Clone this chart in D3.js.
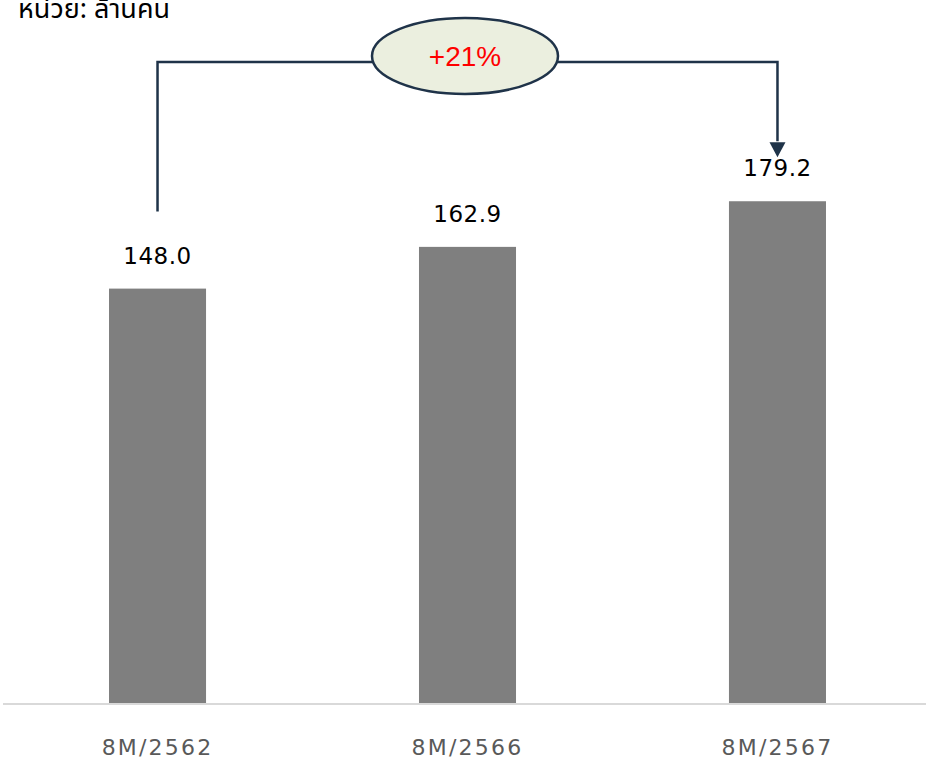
<!DOCTYPE html>
<html>
<head>
<meta charset="utf-8">
<script src="https://cdn.jsdelivr.net/npm/d3@7"></script>
<style>
  body { margin: 0; background: #fff; }
  svg { display: block; }
</style>
</head>
<body>
<div id="chart"></div>
<script>
const width = 926;
const height = 759;

// data
const categories = ["8M/2562", "8M/2566", "8M/2567"];
const values = [148.0, 162.9, 179.2];
const growthLabel = "+21%";
const unitLabel = "หน่วย: ล้านคน";

const baseY = 703;

const svg = d3.select("#chart")
    .append("svg")
    .attr("width", width)
    .attr("height", height);

const x = d3.scaleBand()
    .domain(categories)
    .range([3, 932])
    .paddingInner(0.687)
    .paddingOuter(0.342);

const y = d3.scaleLinear()
    .domain([0, 250])
    .range([baseY, baseY - 2.8 * 250]);

// unit label (top left, partly cut off)
svg.append("text")
    .attr("x", 18)
    .attr("y", 18)
    .attr("font-family", "'Noto Sans Thai', 'Noto Sans', Tahoma, sans-serif")
    .attr("font-size", 27)
    .attr("fill", "#000")
    .text(unitLabel);

// bars
svg.append("g")
    .selectAll("rect")
    .data(values)
    .join("rect")
    .attr("x", (d, i) => x(categories[i]))
    .attr("y", d => y(d))
    .attr("width", x.bandwidth())
    .attr("height", d => baseY - y(d))
    .attr("fill", "#7f7f7f");

// baseline
svg.append("line")
    .attr("x1", 3)
    .attr("x2", width)
    .attr("y1", baseY + 1)
    .attr("y2", baseY + 1)
    .attr("stroke", "#d9d9d9")
    .attr("stroke-width", 2);

// value labels
svg.append("g")
    .selectAll("text")
    .data(values)
    .join("text")
    .attr("x", (d, i) => x(categories[i]) + x.bandwidth() / 2)
    .attr("y", d => y(d) - 25)
    .attr("text-anchor", "middle")
    .attr("font-family", "'DejaVu Sans', sans-serif")
    .attr("font-size", 23)
    .attr("letter-spacing", 0.5)
    .attr("fill", "#000")
    .text(d => d.toFixed(1));

// category labels
svg.append("g")
    .selectAll("text")
    .data(categories)
    .join("text")
    .attr("x", d => x(d) + x.bandwidth() / 2)
    .attr("y", 755)
    .attr("text-anchor", "middle")
    .attr("font-family", "'DejaVu Sans', sans-serif")
    .attr("font-size", 22)
    .attr("letter-spacing", 2.2)
    .attr("fill", "#595959")
    .text(d => d);

// growth connector
const first = x(categories[0]) + x.bandwidth() / 2;
const last = x(categories[2]) + x.bandwidth() / 2;
const lineY = 62;
const ecx = 465, ecy = 56, erx = 93, ery = 38;
const navy = "#1f3349";

svg.append("path")
    .attr("d", `M${first},${y(values[0]) - 77} V${lineY} H${ecx}`)
    .attr("fill", "none")
    .attr("stroke", navy)
    .attr("stroke-width", 2.5);

svg.append("path")
    .attr("d", `M${ecx},${lineY} H${last} V${y(values[2]) - 60}`)
    .attr("fill", "none")
    .attr("stroke", navy)
    .attr("stroke-width", 2.5);

const tipY = y(values[2]) - 44;
svg.append("path")
    .attr("d", `M${last - 8},${tipY - 15} L${last + 8},${tipY - 15} L${last},${tipY} Z`)
    .attr("fill", navy);

svg.append("ellipse")
    .attr("cx", ecx)
    .attr("cy", ecy)
    .attr("rx", erx)
    .attr("ry", ery)
    .attr("fill", "#ebefdf")
    .attr("stroke", navy)
    .attr("stroke-width", 2.5);

svg.append("text")
    .attr("x", ecx)
    .attr("y", ecy + 10)
    .attr("text-anchor", "middle")
    .attr("font-family", "'Liberation Sans', Arial, sans-serif")
    .attr("font-size", 28)
    .attr("fill", "#ff0000")
    .text(growthLabel);
</script>
</body>
</html>
